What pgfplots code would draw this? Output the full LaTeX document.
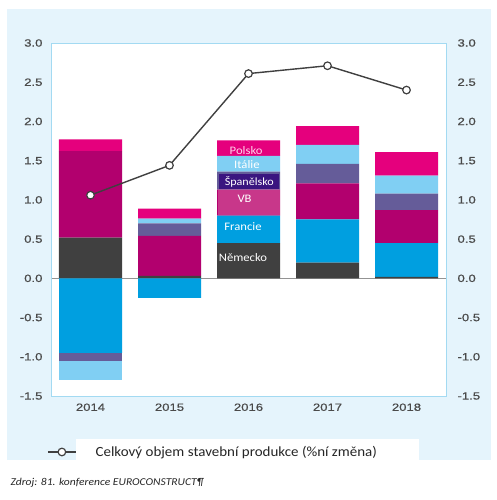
\documentclass[border=0pt]{standalone}
\usepackage{fontspec}
\setmainfont{Liberation Sans}
\newfontfamily\carlito{Carlito}
\newfontfamily\tickfont[FakeStretch=1.25, FakeBold=0.6]{Liberation Sans}
\newfontfamily\legfont[FakeStretch=1.07]{Carlito}
\newfontfamily\srcfont[FakeStretch=1.1]{Carlito}
\newfontfamily\lblfont[FakeStretch=1.1]{Carlito}
\usepackage{pgfplots}
\pgfplotsset{compat=1.18}

\definecolor{bgblue}{HTML}{E5F4FC}
\definecolor{framecol}{HTML}{A3DAF2}
\definecolor{tickgray}{HTML}{4A4A4A}
\definecolor{cDE}{HTML}{404040}
\definecolor{cFR}{HTML}{009FE0}
\definecolor{cVB}{HTML}{B2006E}
\definecolor{cES}{HTML}{655C99}
\definecolor{cIT}{HTML}{80CFF3}
\definecolor{cPL}{HTML}{E5007D}
\definecolor{vbbox}{HTML}{C8378A}
\definecolor{esbox}{HTML}{3A1580}
\definecolor{linegray}{HTML}{404040}
\definecolor{plText}{HTML}{FFD0EA}

\tikzset{lbl/.style={font=\lblfont\fontsize{11.5}{12}\selectfont, text=white}}

\pgfplotsset{
  chartbase/.style={
    width=395pt, height=353pt, scale only axis,
    at={(51pt,104pt)}, anchor=south west,
    xmin=-0.5, xmax=4.5, ymin=-1.5, ymax=3,
    xtick={0,...,4}, ytick={-1.5,-1,...,3},
    major tick length=0pt,
    axis line style={framecol, line width=0.8pt},
    tick label style={font=\tickfont\fontsize{10.5}{12}\selectfont, text=tickgray},
    yticklabel={\pgfmathprintnumber[fixed, fixed zerofill, precision=1, assume math mode=true]{\tick}},
  },
  seg/.style={fill=#1, draw=none},
}

\begin{document}
\begin{tikzpicture}
\useasboundingbox (0pt,0pt) rectangle (497pt,500pt);
\fill[bgblue] (7pt,40pt) rectangle (491pt,491pt);
\fill[white] (76pt,40pt) rectangle (419pt,61pt);

% positive parts
\begin{axis}[chartbase,
  ybar stacked, bar width=63pt,
  axis background/.style={fill=white},
  xticklabels={2014,2015,2016,2017,2018},
  xticklabel style={yshift=-4pt},
  yticklabel style={xshift=-5pt},
  extra y ticks={0}, extra y tick labels={},
  extra y tick style={grid=major, major grid style={gray!85, line width=0.8pt}},
]
\addplot[seg=cDE] coordinates {(0,0.52) (1,0.03) (2,0.45) (3,0.20) (4,0.02)};
\addplot[seg=cFR] coordinates {(0,0) (1,0) (2,0.35) (3,0.55) (4,0.43)};
\addplot[seg=cVB] coordinates {(0,1.10) (1,0.51) (2,0.33) (3,0.46) (4,0.42)};
\addplot[seg=cES] coordinates {(0,0) (1,0.16) (2,0.23) (3,0.25) (4,0.21)};
\addplot[seg=cIT] coordinates {(0,0) (1,0.06) (2,0.20) (3,0.24) (4,0.23)};
\addplot[seg=cPL] coordinates {(0,0.15) (1,0.13) (2,0.20) (3,0.24) (4,0.30)};
\end{axis}

% negative parts
\begin{axis}[chartbase,
  ybar stacked, bar width=63pt,
  xticklabels={},
  yticklabel pos=right,
  yticklabel style={xshift=8pt, anchor=west},
]
\addplot[seg=cFR] coordinates {(0,-0.95) (1,-0.25)};
\addplot[seg=cES] coordinates {(0,-0.10) (1,0)};
\addplot[seg=cIT] coordinates {(0,-0.25) (1,0)};
\end{axis}

% total construction output and the country labels on the 2016 bar
\begin{axis}[chartbase, hide axis,
  legend style={at={(axis description cs:-0.0101,-0.1586)}, anchor=west,
    draw=none, fill=none, inner sep=0pt,
    font=\legfont\fontsize{14}{15}\selectfont, text=black!85,
    nodes={inner sep=0pt}},
  legend image code/.code={
    \draw[#1, mark repeat=2, mark phase=2] plot coordinates {(0pt,0pt) (14pt,0pt) (28pt,0pt)};},
]
\addplot[linegray, line width=1.4pt, mark=*, mark size=3.8pt,
  mark options={fill=white, draw=linegray, line width=1.2pt}]
  coordinates {(0,1.06) (1,1.44) (2,2.61) (3,2.71) (4,2.40)};
\addlegendentry{\hspace*{19pt}Celkový objem stavební produkce (\%ní změna)}

\node[lbl, fill=vbbox, minimum width=62pt, minimum height=25.5pt, inner sep=0pt] at (axis cs:2,0.965) {};
\node[lbl] at (axis cs:1.95,1.02) {VB};
\node[lbl, fill=esbox, minimum width=60pt, minimum height=15pt, inner xsep=0pt, inner ysep=1pt,
  font=\lblfont\fontsize{11}{12}\selectfont] at (axis cs:2.01,1.235) {Španělsko};
\node[lbl, text=plText] at (axis cs:1.97,1.63) {Polsko};
\node[lbl] at (axis cs:1.98,1.45) {Itálie};
\node[lbl] at (axis cs:1.93,0.66) {Francie};
\node[lbl] at (axis cs:1.93,0.27) {Německo};
\end{axis}

\node[anchor=base west, font=\srcfont\itshape\fontsize{10.5}{11}\selectfont, text=black!85]
  at (7pt,14pt) {Zdroj: 81. konference EUROCONSTRUCT¶};
\end{tikzpicture}
\end{document}
